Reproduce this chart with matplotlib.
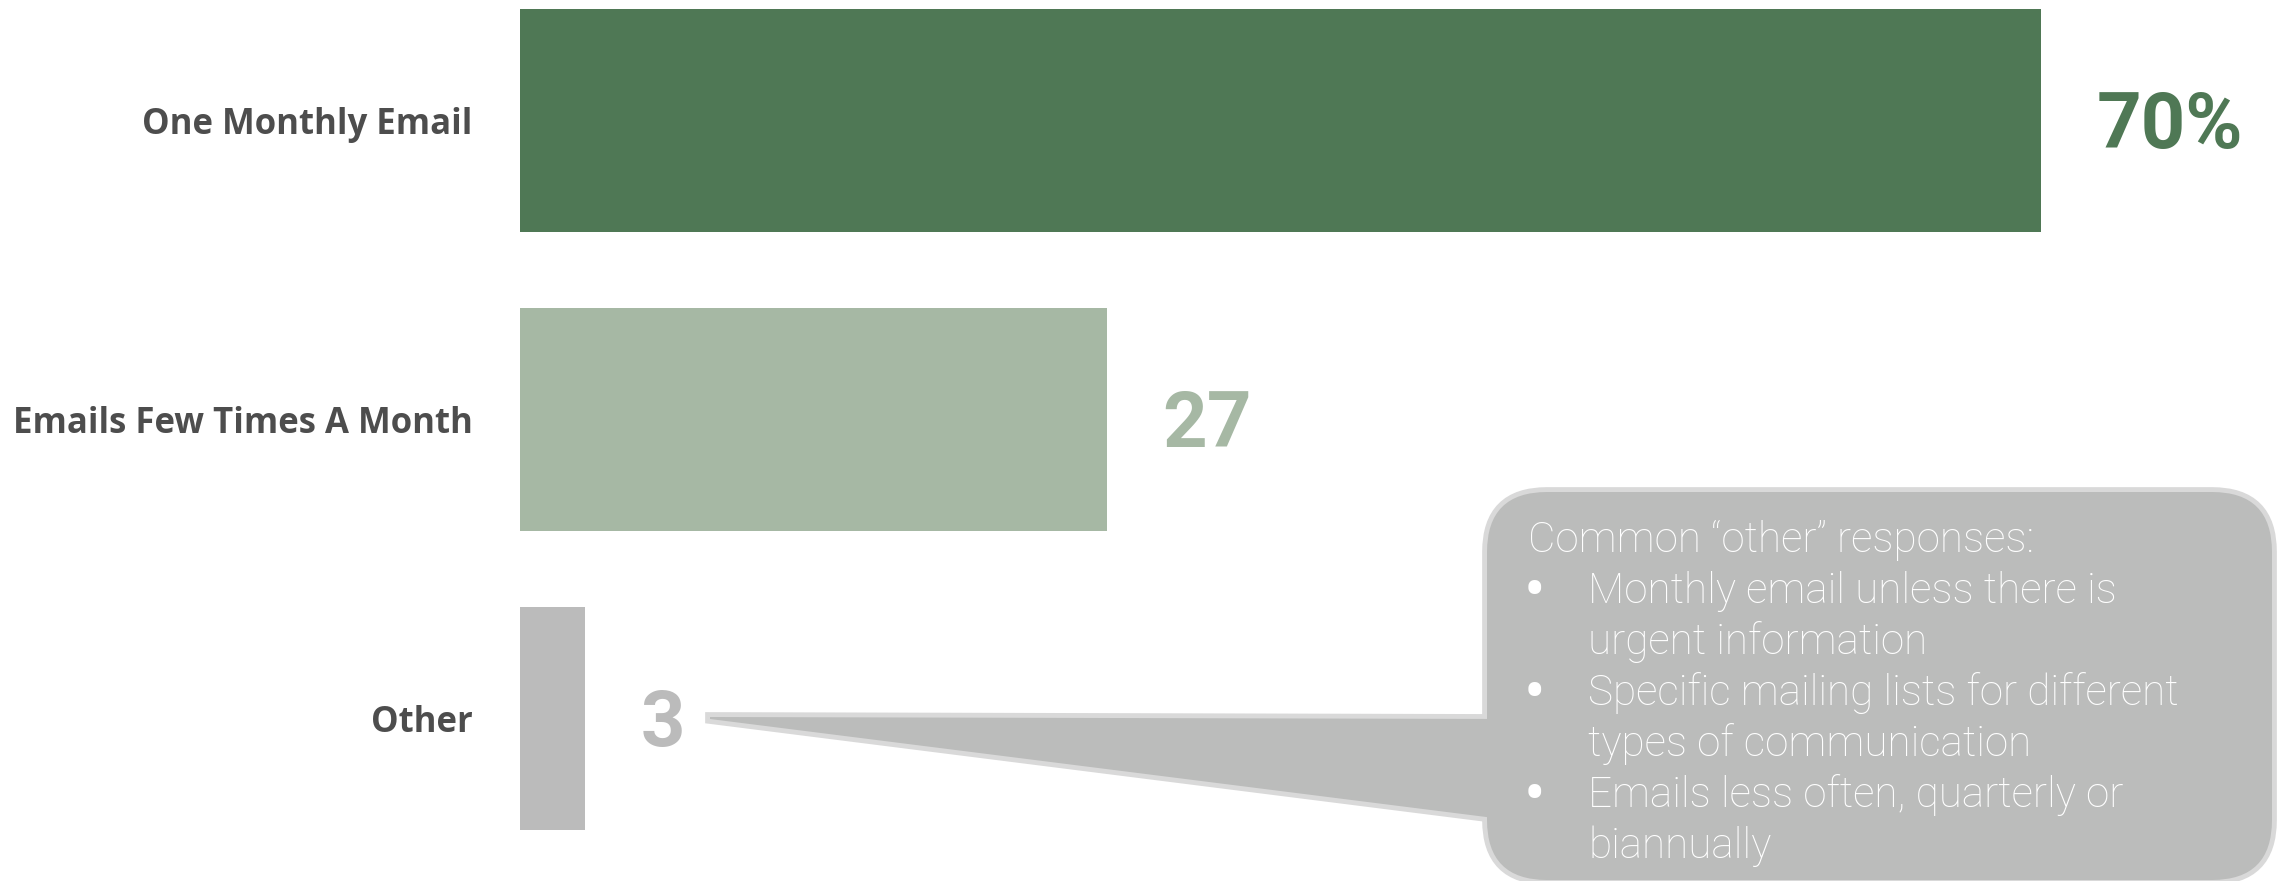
import matplotlib.pyplot as plt
from matplotlib.patches import FancyBboxPatch, Polygon
from matplotlib.transforms import Affine2D

plt.rcParams['font.family'] = ['Roboto', 'DejaVu Sans']

categories = ['One Monthly Email', 'Emails Few Times A Month', 'Other']
values = [70, 27, 3]
value_labels = ['70%', '27', '3']
bar_colors = ['#4f7855', '#a6b8a4', '#bbbbbb']

note_title = 'Common \u201cother\u201d responses:'
note_bullets = ['\u2022', '', '\u2022', '', '\u2022', '']
note_lines = ['Monthly email unless there is',
              'urgent information',
              'Specific mailing lists for different',
              'types of communication',
              'Emails less often, quarterly or',
              'biannually']

W, H = 2290, 881
fig = plt.figure(figsize=(W / 100, H / 100), dpi=100)
ax = fig.add_axes([520 / W, 0, 1 - 520 / W, 1])

ypos = range(len(categories))
ax.barh(ypos, values, height=0.746, color=bar_colors)
ax.set_xlim(0, 70 * (W - 520) / (2041 - 520))
ax.set_ylim(2.543, -0.403)

ax.set_yticks(list(ypos), categories)
ax.tick_params(axis='y', length=0, pad=34, labelcolor='#4d4d4d')
for t in ax.get_yticklabels():
    t.set_fontweight('bold')
    t.set_fontsize(25)
    t.set_family(['Open Sans', 'DejaVu Sans'])
ax.set_xticks([])
for s in ax.spines.values():
    s.set_visible(False)

for i, (v, lbl, c) in enumerate(zip(values, value_labels, bar_colors)):
    ax.annotate(lbl, (v, i), xytext=(40, -20), textcoords='offset points',
                ha='left', va='baseline', fontsize=56, fontweight='bold', color=c)

# callout box, in pixels from the top-left corner
px = Affine2D().scale(1, -1).translate(0, H)
box_fill = '#bbbcbb'
box_edge = '#d9d9d9'
pointer = [(710, 717), (1510, 719), (1510, 820), (710, 719)]
for fc, ec, lw in [(box_edge, box_edge, 7), (box_fill, 'none', 0)]:
    fig.patches.append(FancyBboxPatch((1487, 492), 2272 - 1487, 388,
                                      boxstyle='round,pad=0,rounding_size=60',
                                      facecolor=fc, edgecolor=ec, linewidth=lw,
                                      transform=px, figure=fig))
    fig.patches.append(Polygon(pointer, closed=True, facecolor=fc, edgecolor=ec,
                               linewidth=lw, joinstyle='miter', transform=px, figure=fig))

txt = dict(color='white', fontsize=30.4, fontweight='light', va='baseline', ha='left',
           transform=px)
fig.text(1528, 552, note_title, **txt)
for k, (b, line) in enumerate(zip(note_bullets, note_lines)):
    y = 603 + 51 * k
    if b:
        fig.text(1524, y + 8, b, color='white', fontsize=46, va='baseline',
                 ha='left', transform=px)
    fig.text(1588, y, line, **txt)

fig.savefig('out.png', dpi=100)
